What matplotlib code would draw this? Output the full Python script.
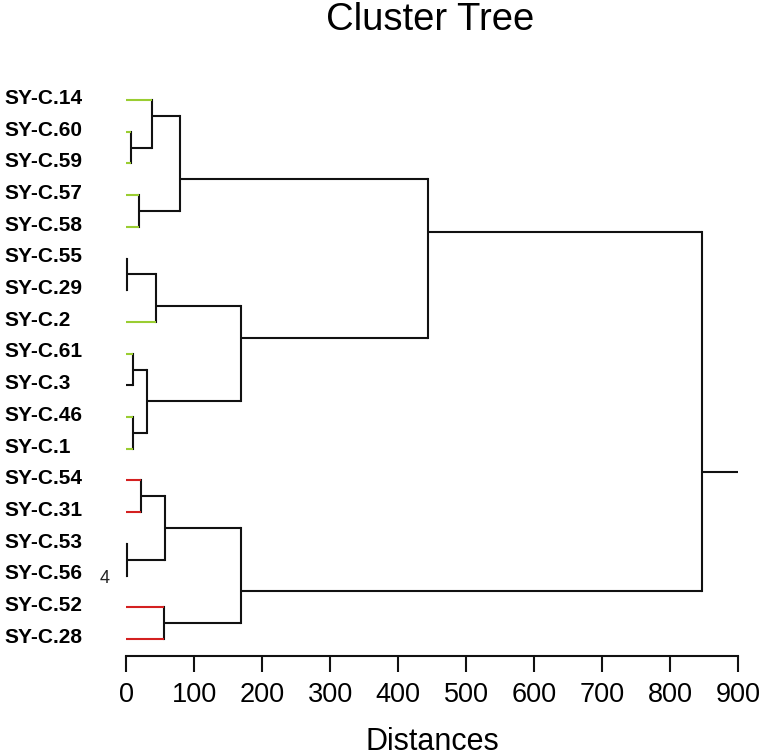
import matplotlib
matplotlib.use("Agg")
import matplotlib.pyplot as plt
import matplotlib.transforms as mtransforms

plt.rcParams['font.family'] = ['Liberation Sans', 'DejaVu Sans']

# ---------------- data ----------------
leaf_labels = ['SY-C.14', 'SY-C.60', 'SY-C.59', 'SY-C.57', 'SY-C.58', 'SY-C.55',
               'SY-C.29', 'SY-C.2', 'SY-C.61', 'SY-C.3', 'SY-C.46', 'SY-C.1',
               'SY-C.54', 'SY-C.31', 'SY-C.53', 'SY-C.56', 'SY-C.52', 'SY-C.28']
leaf_groups = ['g', 'g', 'g', 'g', 'g', 'k', 'k', 'g', 'g', 'k', 'g', 'g',
               'r', 'r', 'k', 'k', 'r', 'r']
# merges: ids < 18 are leaves, ids >= 18 refer to earlier merges (18 + row)
merge_left = [1, 0, 3, 19, 5, 22, 8, 10, 24, 23, 21, 12, 14, 29, 16, 31, 28]
merge_right = [2, 18, 4, 20, 6, 7, 9, 11, 25, 26, 27, 13, 15, 30, 17, 32, 33]
merge_height = [6.3, 38, 19, 79, 1.3, 44, 9.3, 10, 31, 168.5, 443.5,
                21, 1.3, 57, 55, 168.5, 846.5]
x_ticks = [0, 100, 200, 300, 400, 500, 600, 700, 800, 900]
x_tick_labels = ['0', '100', '200', '300', '400', '500', '600', '700', '800', '900']
title = 'Cluster Tree'
x_label = 'Distances'

group_colors = {'g': '#9acd32', 'r': '#d42020', 'k': '#111111'}
LINE = '#111111'
LW = 1.5

W, H = 767, 756
fig = plt.figure(figsize=(W / 100, H / 100), dpi=100)
ax_left, ax_right = 126.4, 738.3
ax_top, ax_bot = 60, 656
ax = fig.add_axes([ax_left / W, 1 - ax_bot / H, (ax_right - ax_left) / W, (ax_bot - ax_top) / H])
px_per_leaf = 31.7
ax.set_xlim(x_ticks[0], x_ticks[-1])
ax.set_ylim(17 + (ax_bot - 639) / px_per_leaf, -(100 - ax_top) / px_per_leaf)

n = len(leaf_labels)
ypos = {i: float(i) for i in range(n)}
xpos = {i: 0.0 for i in range(n)}
size = {i: 1 for i in range(n)}

for k, (a, b, h) in enumerate(zip(merge_left, merge_right, merge_height)):
    node = n + k
    ya, yb = ypos[a], ypos[b]
    na, nb = size[a], size[b]
    if na == nb:
        y = (ya + yb) / 2
    elif na < nb:
        y = (2 * ya + yb) / 3
    else:
        y = (ya + 2 * yb) / 3
    ax.plot([h, h], [ya, yb], color=LINE, lw=LW, solid_capstyle='projecting', clip_on=False)
    for c in (a, b):
        col = group_colors[leaf_groups[c]] if c < n else LINE
        ax.plot([xpos[c], h], [ypos[c], ypos[c]], color=col, lw=LW,
                solid_capstyle='butt', clip_on=False)
    ypos[node], xpos[node], size[node] = y, h, na + nb

root = n + len(merge_height) - 1
ax.plot([xpos[root], x_ticks[-1]], [ypos[root], ypos[root]], color=LINE, lw=LW,
        solid_capstyle='butt', clip_on=False)

# leaf labels
trans = mtransforms.blended_transform_factory(fig.transFigure, ax.transData)
for i, lab in enumerate(leaf_labels):
    ax.text(4 / W, i + 0.12, lab, transform=trans, ha='left', va='baseline',
            fontsize=15, fontweight='bold', color='black')

# stray mark next to SY-C.56
fig.text(100 / W, 1 - 583 / H, '4', fontsize=13, color='#222222', ha='left', va='baseline')

# axes styling
for s in ('top', 'left', 'right'):
    ax.spines[s].set_visible(False)
ax.spines['bottom'].set_linewidth(1.5)
ax.spines['bottom'].set_color(LINE)
ax.set_yticks([])
ax.set_xticks(x_ticks)
ax.set_xticklabels(x_tick_labels)
ax.tick_params(axis='x', direction='out', length=11.5, width=1.5, color=LINE,
               pad=7, labelsize=19.5)
ax.set_xlabel(x_label, fontsize=22)
ax.xaxis.set_label_coords(0.5, (ax_bot - 750) / (ax_bot - ax_top))
ax.xaxis.label.set_va('baseline')

fig.text(430 / W, 1 - 29.5 / H, title, ha='center', va='baseline', fontsize=27.5)

fig.savefig('out.png', dpi=100)
